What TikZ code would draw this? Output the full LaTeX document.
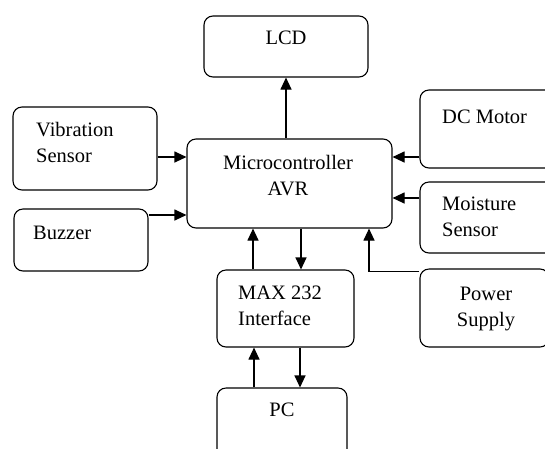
\documentclass[tikz,border=0pt]{standalone}
\usepackage{fontspec}
\setmainfont{LiberationSerif}[Extension=.ttf, UprightFont=*-Regular, BoldFont=*-Bold]
\usetikzlibrary{arrows.meta}

\begin{document}
\begin{tikzpicture}[x=1pt,y=-1pt,
    box/.style={draw, rounded corners=9pt, line width=1.1pt, inner sep=0pt},
    txt/.style={font=\rmfamily\fontsize{20.5}{26}\selectfont, inner sep=0pt},
    arr/.style={line width=1.1pt, -{Triangle[length=12pt,width=11pt]}}]
    \useasboundingbox (0,0) rectangle (545,448);
    \clip (0,0) rectangle (545,448);

    % boxes
    \node[box, minimum width=164pt, minimum height=61pt] (lcd) at (286,46.5) {};
    \node[box, minimum width=144pt, minimum height=83pt] (vib) at (85,148.5) {};
    \node[box, minimum width=134pt, minimum height=62pt] (buz) at (81,240) {};
    \node[box, minimum width=205pt, minimum height=89pt] (mcu) at (289.5,183.5) {};
    \node[box, minimum width=134pt, minimum height=78pt] (dcm) at (487,129) {};
    \node[box, minimum width=134pt, minimum height=71pt] (mst) at (487,217.5) {};
    \node[box, minimum width=129pt, minimum height=78pt] (pwr) at (484.5,308) {};
    \node[box, minimum width=137pt, minimum height=77pt] (max) at (285.5,308.5) {};
    \node[box, minimum width=130pt, minimum height=74pt] (pc) at (282,425) {};

    % labels
    \node[txt, anchor=base] (lcdtxt) at (286,44) {LCD};
    \node[txt, align=center, anchor=north] (mcutxt) at (288,155) {Microcontroller\\AVR};
    \node[txt, align=left, anchor=north west] (vibtxt) at (36,122) {Vibration\\Sensor};
    \node[txt, anchor=base west] (buztxt) at (33,239) {Buzzer};
    \node[txt, anchor=base west] (dcmtxt) at (442,123) {DC Motor};
    \node[txt, align=left, anchor=north west] (msttxt) at (442,197) {Moisture\\Sensor};
    \node[txt, align=left, anchor=north west] (maxtxt) at (238,286) {MAX 232\\Interface};
    \node[txt, align=center, anchor=north] (pwrtxt) at (486,287) {Power\\Supply};
    \node[txt, anchor=base] (pctxt) at (282,416) {PC};

    % connectors
    \draw[arr] (mcu.north -| lcd.south) -- (lcd.south);
    \draw[arr] (vib.east |- 0,157) -- (mcu.west |- 0,157);
    \draw[arr] (buz.east |- 0,215) -- (mcu.west |- 0,215);
    \draw[arr] (dcm.west |- 0,157) -- (mcu.east |- 0,157);
    \draw[arr] (mst.west |- 0,198) -- (mcu.east |- 0,198);
    \draw[arr] (max.north -| 253,0) -- (mcu.south -| 253,0);
    \draw[arr] (mcu.south -| 301,0) -- (max.north -| 301,0);
    \draw[arr] (pc.north -| 254,0) -- (max.south -| 254,0);
    \draw[arr] (max.south -| 300,0) -- (pc.north -| 300,0);
    \draw[arr] ([yshift=-3pt]pwr.north west) -| (mcu.south -| 369,0);
\end{tikzpicture}
\end{document}
